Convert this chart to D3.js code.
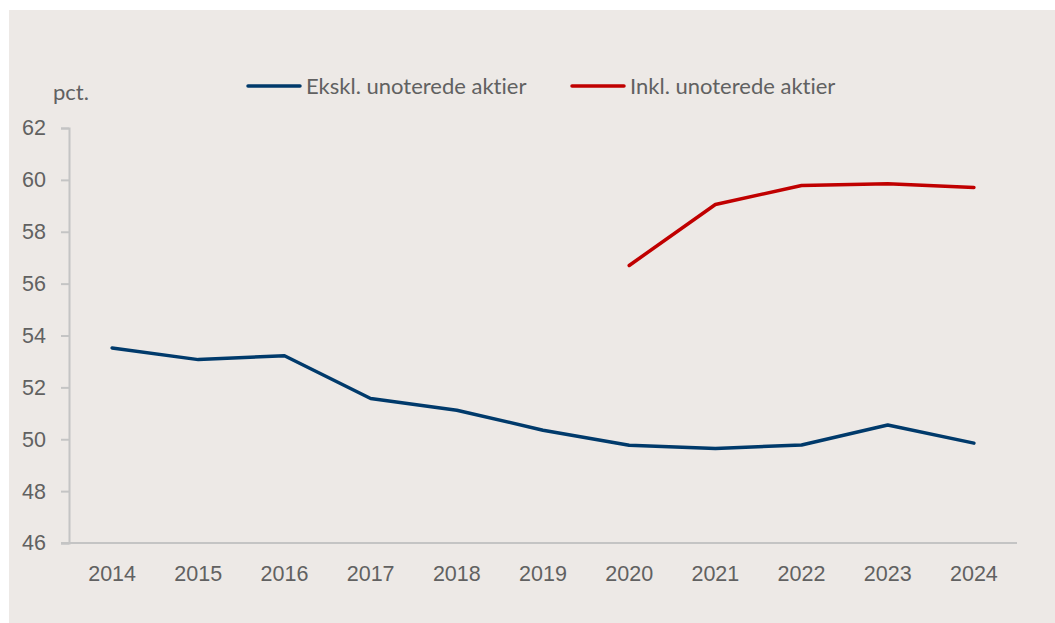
<!DOCTYPE html>
<html>
<head>
<meta charset="utf-8">
<script src="https://cdn.jsdelivr.net/npm/d3@7"></script>
<style>
  body { margin: 0; background: #fff; }
  svg { display: block; font-family: Lato, "Open Sans", sans-serif; font-variant-ligatures: none; }
</style>
</head>
<body>
<svg id="chart" width="1055" height="623"></svg>
<script>
const years = ["2014", "2015", "2016", "2017", "2018", "2019", "2020", "2021", "2022", "2023", "2024"];
const ekskl = [53.52, 53.07, 53.22, 51.57, 51.12, 50.35, 49.77, 49.64, 49.78, 50.55, 49.85];
const inkl = [null, null, null, null, null, null, 56.70, 59.05, 59.78, 59.85, 59.71];
const yTicks = [46, 48, 50, 52, 54, 56, 58, 60, 62];
const seriesNames = ["Ekskl. unoterede aktier", "Inkl. unoterede aktier"];
const seriesColors = ["#003a6b", "#c00000"];

const svg = d3.select("#chart");
const textColor = "#616161";
const axisColor = "#c4c4c4";
const fontSize = "21.5px";

// panel background
svg.append("rect")
    .attr("x", 9).attr("y", 10)
    .attr("width", 1046).attr("height", 613)
    .attr("fill", "#ede9e6");

const plot = {left: 69, right: 1017, top: 128, bottom: 543};

const x = d3.scaleBand()
    .domain(years)
    .range([plot.left, plot.right]);

const y = d3.scaleLinear()
    .domain([46, 62])
    .range([plot.bottom, plot.top]);

// y axis
const yAxis = svg.append("g")
    .attr("transform", "translate(" + plot.left + ",0)")
    .call(d3.axisLeft(y).tickValues(yTicks).tickSize(8).tickPadding(15).tickFormat(d3.format("d")));
yAxis.select(".domain").attr("stroke", axisColor).attr("stroke-width", 2);
yAxis.selectAll(".tick line").attr("stroke", axisColor).attr("stroke-width", 2);
yAxis.selectAll(".tick text")
    .attr("fill", textColor)
    .style("font-size", fontSize);

// x axis
const xAxis = svg.append("g")
    .attr("transform", "translate(0," + plot.bottom + ")")
    .call(d3.axisBottom(x).tickSize(0).tickPadding(23));
xAxis.select(".domain")
    .attr("d", "M" + (plot.left - 8) + ",0H" + plot.right)
    .attr("stroke", axisColor).attr("stroke-width", 2);
xAxis.selectAll(".tick text")
    .attr("fill", textColor)
    .style("font-size", fontSize);

// unit label
svg.append("text")
    .attr("x", 53).attr("y", 100)
    .attr("fill", textColor)
    .style("font-size", "22px")
    .text("pct.");

// lines
const line = d3.line()
    .defined(d => d.v !== null)
    .x(d => x(d.year) + x.bandwidth() / 2)
    .y(d => y(d.v));

[ekskl, inkl].forEach((vals, i) => {
  const data = years.map((yr, j) => ({year: yr, v: vals[j]}));
  svg.append("path")
      .datum(data)
      .attr("fill", "none")
      .attr("stroke", seriesColors[i])
      .attr("stroke-width", 3.5)
      .attr("stroke-linecap", "round")
      .attr("stroke-linejoin", "round")
      .attr("d", line);
});

// legend
const legendPos = [248, 572];
seriesNames.forEach((name, i) => {
  const g = svg.append("g").attr("transform", "translate(" + legendPos[i] + ",86)");
  g.append("line")
      .attr("x1", 0).attr("x2", 52)
      .attr("stroke", seriesColors[i])
      .attr("stroke-width", 3.5)
      .attr("stroke-linecap", "round");
  g.append("text")
      .attr("x", 58).attr("y", 8)
      .attr("fill", textColor)
      .style("font-size", "22px")
      .text(name);
});
</script>
</body>
</html>
